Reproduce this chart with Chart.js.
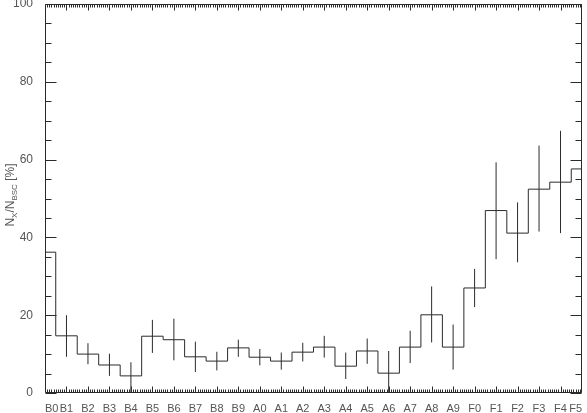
<!DOCTYPE html>
<html>
<head>
<meta charset="utf-8">
<script src="https://cdn.jsdelivr.net/npm/chart.js@4/dist/chart.umd.min.js"></script>
<style>
  html, body { margin: 0; padding: 0; background: #fff; }
  #wrap { width: 587px; height: 413px; }
</style>
</head>
<body>
<div id="wrap"><canvas id="fracChart"></canvas></div>
<script>
    "use strict";

    var spTypes = ["B0", "B1", "B2", "B3", "B4", "B5", "B6", "B7", "B8", "B9",
                   "A0", "A1", "A2", "A3", "A4", "A5", "A6", "A7", "A8", "A9",
                   "F0", "F1", "F2", "F3", "F4", "F5"];
    var fraction = [36.2, 14.7, 10.0, 7.2, 4.4, 14.6, 13.7, 9.3, 8.2, 11.6,
                    9.2, 8.2, 10.5, 11.8, 6.9, 10.8, 5.1, 11.8, 20.1, 11.8,
                    27.0, 46.9, 41.1, 52.4, 54.2, 57.6];
    var errLow = [null, 9.3, 7.4, 4.4, 0, 10.3, 8.4, 5.4, 5.8, 9.3,
                  7.1, 6.0, 8.1, 9.1, 3.6, 7.5, 0, 7.7, 13.0, 6.0,
                  22.1, 34.4, 33.6, 41.5, 41.1, null];
    var errHigh = [null, 20.0, 12.8, 10.1, 7.9, 18.8, 19.1, 13.2, 10.6, 13.7,
                   11.3, 10.4, 12.9, 14.7, 10.4, 14.0, 10.8, 16.0, 27.4, 17.6,
                   31.9, 59.3, 49.0, 63.6, 67.4, null];
    var yTicks = [0, 20, 40, 60, 80, 100];

    var lineCol = "#2b2b2b";
    var textCol = "#555";
    var fontFam = "'Liberation Sans', Arial, sans-serif";

    var stepData = fraction.map(function (v, i) { return { x: i, y: v }; });
    // one vertical segment per type, separated by gaps
    var errData = [];
    errLow.forEach(function (lo, i) {
        if (lo === null) return;
        errData.push({ x: i, y: lo }, { x: i, y: errHigh[i] }, { x: i, y: null });
    });

    // frame + inward major/minor ticks on all four sides, and the y title
    var frameTicks = {
        id: "frameTicks",
        afterDraw: function (chart) {
            var c = chart.ctx, a = chart.chartArea;
            var xs = chart.scales.x, ys = chart.scales.y;
            var L = Math.round(a.left) + 0.5, R = Math.round(a.right) - 0.5;
            var T = Math.round(a.top) + 0.5, B = Math.round(a.bottom) - 0.5;
            c.save();
            c.strokeStyle = lineCol;
            c.lineWidth = 1;
            c.beginPath();
            c.rect(L, T, R - L, B - T);
            for (var k = 0; k <= (spTypes.length - 1) * 10; k++) {
                var px = Math.round(xs.getPixelForValue(k / 10)) + 0.5;
                if (px > R) px = R;
                var len = (k % 10 === 0) ? 6 : 3;
                c.moveTo(px, B); c.lineTo(px, B - len);
                c.moveTo(px, T); c.lineTo(px, T + len);
            }
            for (var v = 0; v <= 100; v += 5) {
                var py = Math.round(ys.getPixelForValue(v)) + 0.5;
                var ln = (v % 20 === 0) ? 11 : 6;
                c.moveTo(L, py); c.lineTo(L + ln, py);
                c.moveTo(R, py); c.lineTo(R - ln, py);
            }
            c.stroke();

            // y title: N_X / N_BSC [%]
            c.translate(10, 195);
            c.rotate(-Math.PI / 2);
            c.fillStyle = textCol;
            c.textBaseline = "alphabetic";
            var parts = [["N", 12, 0], ["X", 8, 3], ["/N", 12, 0], ["BSC", 8, 3], [" [%]", 12, 0]];
            var w = 0;
            parts.forEach(function (p) {
                c.font = p[1] + "px " + fontFam;
                w += c.measureText(p[0]).width;
            });
            var x0 = -w / 2;
            parts.forEach(function (p) {
                c.font = p[1] + "px " + fontFam;
                c.fillText(p[0], x0, 4 + p[2]);
                x0 += c.measureText(p[0]).width;
            });
            c.restore();
        }
    };

    var ctx = document.getElementById("fracChart").getContext("2d");
    var fracChart = new Chart(ctx, {
        type: "line",
        data: {
            datasets: [
                {
                    label: "fraction",
                    data: stepData,
                    stepped: "middle",
                    borderColor: lineCol,
                    borderWidth: 1,
                    pointRadius: 0,
                    fill: false
                },
                {
                    label: "error",
                    data: errData,
                    spanGaps: false,
                    borderColor: lineCol,
                    borderWidth: 1,
                    pointRadius: 0,
                    fill: false
                }
            ]
        },
        options: {
            responsive: true,
            maintainAspectRatio: false,
            animation: false,
            layout: { padding: { top: 4, right: 5, left: 0, bottom: 0 } },
            plugins: {
                legend: { display: false },
                tooltip: { enabled: false }
            },
            scales: {
                x: {
                    type: "linear",
                    min: 0,
                    max: spTypes.length - 1,
                    grid: { display: false },
                    border: { display: false },
                    ticks: {
                        stepSize: 1,
                        autoSkip: false,
                        maxRotation: 0,
                        align: "inner",
                        padding: 1,
                        color: textCol,
                        font: { family: fontFam, size: 11 },
                        callback: function (v) { return spTypes[v]; }
                    },
                    afterFit: function (s) { s.height = 20; s.paddingLeft = 0; s.paddingRight = 0; }
                },
                y: {
                    min: 0,
                    max: 100,
                    grid: { display: false },
                    border: { display: false },
                    afterBuildTicks: function (s) {
                        s.ticks = yTicks.map(function (v) { return { value: v }; });
                    },
                    ticks: {
                        padding: 4,
                        color: textCol,
                        font: { family: fontFam, size: 12 }
                    },
                    afterFit: function (s) { s.width = 45; s.paddingTop = 0; s.paddingBottom = 0; }
                }
            }
        },
        plugins: [frameTicks]
    });
</script>
</body>
</html>
